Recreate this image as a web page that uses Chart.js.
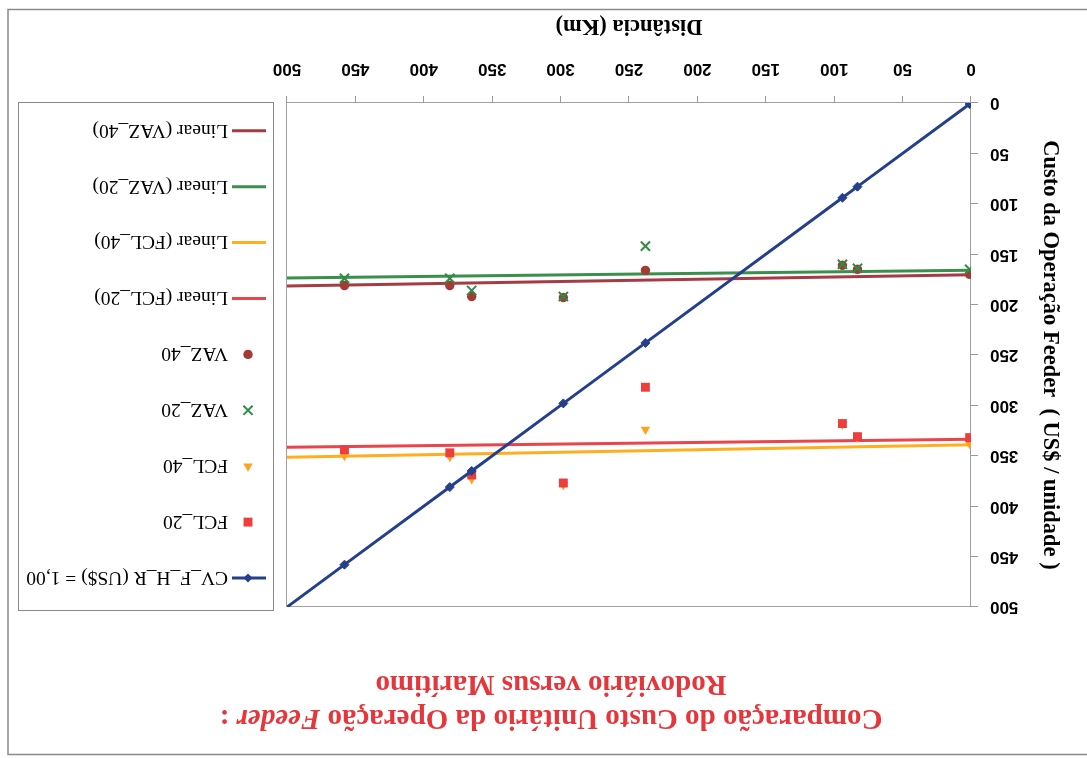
<!DOCTYPE html>
<html>
<head>
<meta charset="utf-8">
<script src="https://cdn.jsdelivr.net/npm/chart.js@4.4.1/dist/chart.umd.min.js"></script>
<style>
  html, body { margin: 0; padding: 0; background: #fff; }
  /* the sheet is shown turned upside down */
  #sheet {
    position: absolute; left: 0; top: 0;
    width: 1087px; height: 758px;
    transform: rotate(180deg); transform-origin: 50% 50%;
    background: #fff;
  }
  canvas { display: block; }
</style>
</head>
<body>
<div id="sheet"><canvas id="chart" width="1087" height="758"></canvas></div>
<script>
// Distance (km) of each observed route
const distKm = [1, 83, 94, 238, 298, 365, 381, 458];
// Feeder operation cost per unit (US$) by container type
const fcl20 = [332, 331, 318, 282, 377, 369, 347, 344];
const fcl40 = [338, 332, 319, 324, 379, 373, 351, 350];
const vaz20 = [165, 164, 160, 142, 192, 186, 174, 174];
const vaz40 = [170, 165, 161, 166, 193, 192, 181, 181];
// Road cost line CV_F_H_R at 1,00 US$ per km
const cvDist = [1, 83, 94, 238, 298, 365, 381, 458, 500];
const cvCost = [1, 83, 94, 238, 298, 365, 381, 458, 500];
// Linear trend lines, start and end of the distance range
const trendKm = [0, 500];
const trendFcl20 = [333.5, 341.5];
const trendFcl40 = [339, 351.5];
const trendVaz20 = [166, 173.5];
const trendVaz40 = [170.5, 181.5];
// Axis tick values
const xTickValues = [0, 50, 100, 150, 200, 250, 300, 350, 400, 450, 500];
const yTickValues = [0, 50, 100, 150, 200, 250, 300, 350, 400, 450, 500];

const titleLine1 = ['Comparação do Custo Unitário da Operação ', 'Feeder', ' :'];
const titleLine2 = 'Rodoviário versus Marítimo';

const pts = (xs, ys) => xs.map((x, i) => ({ x: x, y: ys[i] }));

const serif = 'Liberation Serif, Times New Roman, serif';
const sans = 'Liberation Sans, Arial, sans-serif';

const datasets = [
  {
    label: 'CV_F_H_R (US$) = 1,00', data: pts(cvDist, cvCost), showLine: true,
    borderColor: '#243F8C', borderWidth: 3, pointStyle: 'rectRot',
    pointRadius: c => (c.dataIndex === cvDist.length - 1 ? 0 : 4.5),
    pointBackgroundColor: '#243F8C', pointBorderColor: '#243F8C', pointBorderWidth: 1,
    legendMarker: { style: 'rectRot', r: 4.5 }
  },
  {
    label: 'FCL_20', data: pts(distKm, fcl20), showLine: false,
    pointStyle: 'rect', pointRadius: 6.3,
    pointBackgroundColor: '#EE3D3D', pointBorderColor: '#EE3D3D', pointBorderWidth: 0,
    borderColor: '#EE3D3D', legendMarker: { style: 'rect', r: 6.3 }
  },
  {
    label: 'FCL_40', data: pts(distKm, fcl40), showLine: false,
    pointStyle: 'triangle', pointRadius: 5.5,
    pointBackgroundColor: '#FFA31A', pointBorderColor: '#FFA31A', pointBorderWidth: 0,
    borderColor: '#FFA31A', legendMarker: { style: 'triangle', r: 5.5 }
  },
  {
    label: 'VAZ_20', data: pts(distKm, vaz20), showLine: false,
    pointStyle: 'crossRot', pointRadius: 6.5,
    pointBackgroundColor: '#2F8C46', pointBorderColor: '#2F8C46', pointBorderWidth: 2,
    borderColor: '#2F8C46', legendMarker: { style: 'crossRot', r: 6.5 }
  },
  {
    label: 'VAZ_40', data: pts(distKm, vaz40), showLine: false,
    pointStyle: 'circle', pointRadius: 4.7,
    pointBackgroundColor: '#A23A35', pointBorderColor: '#A23A35', pointBorderWidth: 0,
    borderColor: '#A23A35', legendMarker: { style: 'circle', r: 4.7 }
  },
  {
    label: 'Linear (FCL_20)', data: pts(trendKm, trendFcl20), showLine: true,
    borderColor: '#E8454D', borderWidth: 3, pointRadius: 0
  },
  {
    label: 'Linear (FCL_40)', data: pts(trendKm, trendFcl40), showLine: true,
    borderColor: '#FFAE1F', borderWidth: 3, pointRadius: 0
  },
  {
    label: 'Linear (VAZ_20)', data: pts(trendKm, trendVaz20), showLine: true,
    borderColor: '#3A8F4C', borderWidth: 3, pointRadius: 0
  },
  {
    label: 'Linear (VAZ_40)', data: pts(trendKm, trendVaz40), showLine: true,
    borderColor: '#A53C44', borderWidth: 3, pointRadius: 0
  }
];

function marker(ctx, style, r, x, y, color) {
  ctx.save();
  ctx.fillStyle = color; ctx.strokeStyle = color;
  ctx.lineWidth = style === 'crossRot' ? 2 : 1;
  if (Chart.helpers && Chart.helpers.drawPoint) {
    Chart.helpers.drawPoint(ctx, { pointStyle: style, radius: r, rotation: 0, borderWidth: style === 'crossRot' ? 2 : 0 }, x, y);
  } else {
    ctx.beginPath(); ctx.arc(x, y, r, 0, Math.PI * 2); ctx.fill();
  }
  ctx.restore();
}

// white page, outer frame and plot-area border
const framePlugin = {
  id: 'frame',
  beforeDraw(chart) {
    const ctx = chart.ctx;
    ctx.save();
    ctx.fillStyle = '#fff';
    ctx.fillRect(0, 0, chart.width, chart.height);
    ctx.strokeStyle = '#8a8a8a'; ctx.lineWidth = 1.5;
    ctx.strokeRect(-4, 3.5, 1083, 745);
    ctx.restore();
  },
  beforeDatasetsDraw(chart) {
    const a = chart.chartArea, ctx = chart.ctx;
    ctx.save();
    ctx.strokeStyle = '#a0a0a0'; ctx.lineWidth = 1;
    ctx.strokeRect(a.left + 0.5, a.top + 0.5, a.right - a.left, a.bottom - a.top);
    ctx.restore();
  }
};

// two-line title with italic "Feeder"
const titlePlugin = {
  id: 'twoLineTitle',
  afterDraw(chart) {
    const ctx = chart.ctx, cx = 536;
    ctx.save();
    ctx.fillStyle = '#E5363C';
    ctx.textBaseline = 'middle';
    const fonts = ['bold 29px ' + serif, 'italic bold 29px ' + serif, 'bold 29px ' + serif];
    let total = 0;
    const widths = titleLine1.map((s, i) => { ctx.font = fonts[i]; const w = ctx.measureText(s).width; total += w; return w; });
    let x = cx - total / 2;
    ctx.textAlign = 'left';
    titleLine1.forEach((s, i) => { ctx.font = fonts[i]; ctx.fillText(s, x, 41); x += widths[i]; });
    ctx.font = fonts[0];
    ctx.textAlign = 'center';
    ctx.fillText(titleLine2, cx, 75);
    ctx.restore();
  }
};

// boxed legend on the right
const legendPlugin = {
  id: 'boxLegend',
  afterDraw(chart) {
    const ctx = chart.ctx;
    const box = { left: 813, top: 147, right: 1068, bottom: 655 };
    const firstY = 180, step = 55.9, lx0 = 821, lx1 = 855, mx = 839, tx = 859;
    ctx.save();
    ctx.strokeStyle = '#8a8a8a'; ctx.lineWidth = 1;
    ctx.strokeRect(box.left + 0.5, box.top + 0.5, box.right - box.left, box.bottom - box.top);
    chart.data.datasets.forEach((ds, i) => {
      const y = firstY + i * step;
      if (ds.showLine) {
        ctx.beginPath(); ctx.strokeStyle = ds.borderColor; ctx.lineWidth = ds.borderWidth;
        ctx.moveTo(lx0, y); ctx.lineTo(lx1, y); ctx.stroke();
      }
      if (ds.legendMarker) marker(ctx, ds.legendMarker.style, ds.legendMarker.r, mx, y, ds.pointBackgroundColor);
      ctx.fillStyle = '#000';
      ctx.font = '19.5px ' + serif;
      ctx.textAlign = 'left'; ctx.textBaseline = 'middle';
      ctx.fillText(ds.label, tx, y + 1);
    });
    ctx.restore();
  }
};

new Chart(document.getElementById('chart'), {
  type: 'scatter',
  data: { datasets: datasets },
  options: {
    responsive: false,
    animation: false,
    devicePixelRatio: 1,
    layout: { padding: { left: 0, top: 151, right: 287, bottom: 0 } },
    plugins: { legend: { display: false }, title: { display: false }, tooltip: { enabled: false } },
    scales: {
      x: {
        type: 'linear', position: 'bottom', min: 0, max: 500,
        afterBuildTicks: s => { s.ticks = xTickValues.map(v => ({ value: v })); },
        afterFit: s => { s.height = 103; },
        ticks: { font: { family: sans, size: 17, weight: 'bold' }, color: '#000', padding: 17, maxRotation: 0, autoSkip: false },
        grid: { drawOnChartArea: false, drawTicks: true, tickLength: 7, color: '#9a9a9a' },
        border: { display: true, color: '#9a9a9a', width: 1 },
        title: { display: true, text: 'Distância (Km)', color: '#000',
                 font: { family: serif, size: 22.5, weight: 'bold' }, padding: { top: 0, bottom: 12 } }
      },
      y: {
        type: 'linear', position: 'left', min: 0, max: 500,
        afterBuildTicks: s => { s.ticks = yTickValues.map(v => ({ value: v })); },
        afterFit: s => { s.width = 116; },
        ticks: { font: { family: sans, size: 17, weight: 'bold' }, color: '#000', padding: 12, autoSkip: false },
        grid: { drawOnChartArea: false, drawTicks: true, tickLength: 7, color: '#9a9a9a' },
        border: { display: true, color: '#9a9a9a', width: 1 },
        title: { display: true, text: 'Custo da Operação Feeder  ( US$ / unidade )', color: '#000',
                 font: { family: serif, size: 22.5, weight: 'bold' }, padding: { top: 24, bottom: 0 } }
      }
    }
  },
  plugins: [framePlugin, titlePlugin, legendPlugin]
});
</script>
</body>
</html>
